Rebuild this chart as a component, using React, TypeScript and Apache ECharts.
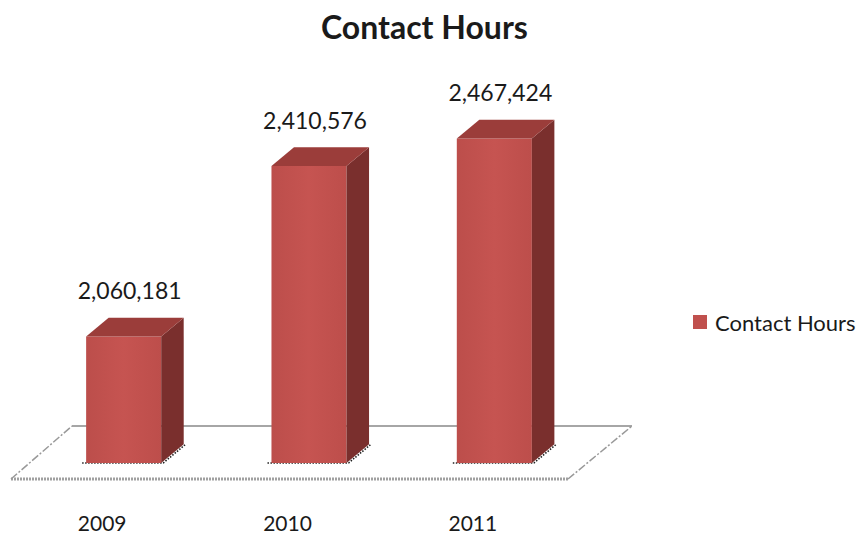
import React, { useEffect, useRef } from "react";
import * as echarts from "echarts";

const categories = ["2009", "2010", "2011"];
const contactHours = [2060181, 2410576, 2467424];
const seriesName = "Contact Hours";
const axisMin = 1800000;
const axisMax = 2600000;

const FONT = "Lato, 'Open Sans', sans-serif";

function fmt(v: number) {
  return v.toString().replace(/\B(?=(\d{3})+(?!\d))/g, ",");
}

export default function App() {
  const ref = useRef<HTMLDivElement>(null);
  useEffect(() => {
    if (!ref.current) return;
    const chart = echarts.init(ref.current, null, { renderer: "svg" });
    const data = contactHours.map((v, i) => [i, v]);
    chart.setOption({
      animation: false,
      backgroundColor: "#ffffff",
      title: {
        text: "Contact Hours",
        left: 316,
        top: 5,
        textStyle: { fontFamily: FONT, fontSize: 32, fontWeight: "bold", color: "#1a1a1a" },
      },
      legend: {
        data: [seriesName],
        left: 688,
        top: 306,
        icon: "rect",
        itemWidth: 14,
        itemHeight: 14,
        textStyle: { fontFamily: FONT, fontSize: 22, color: "#1a1a1a", padding: [0, 0, 0, 3] },
      },
      grid: { left: 31, right: 277, top: 74, bottom: 75 },
      xAxis: {
        type: "category",
        data: categories,
        axisLine: { show: false },
        axisTick: { show: false },
        splitLine: { show: false },
        axisLabel: {
          fontFamily: FONT,
          fontSize: 21,
          color: "#1a1a1a",
          margin: 49,
          padding: [0, 43, 0, 0],
        },
      },
      yAxis: {
        type: "value",
        min: axisMin,
        max: axisMax,
        show: false,
        splitLine: { show: false },
      },
      series: [
        {
          name: seriesName,
          type: "custom",
          itemStyle: { color: "#C0504D" },
          data,
          encode: { x: 0, y: 1 },
          renderItem: (params: any, api: any) => {
            const idx = api.value(0);
            const val = api.value(1);
            const base = api.coord([idx, axisMin]);
            const top = api.coord([idx, val]);
            const band = api.size([1, 0])[0];
            const w = band * 0.405;
            const dx = w * 0.3;
            const dy = w * 0.25;
            const x0 = base[0] - w / 2;
            const x1 = x0 + w;
            const yT = top[1];
            const yB = base[1];
            const children: any[] = [];
            if (params.dataIndex === 0) {
              const cs = params.coordSys;
              const gl = cs.x;
              const gr = cs.x + cs.width;
              const fy = yB;
              const fl = gl - 20;
              const fr = gr - 19;
              const bl = gl + 41;
              const br = gr + 45;
              const fyF = fy + 16;
              const fyB = fy - 37;
              children.push({
                type: "polygon",
                shape: { points: [[fl, fyF], [bl, fyB], [br, fyB], [fr, fyF]] },
                style: { fill: "#ffffff", stroke: "none" },
              });
              children.push({
                type: "line",
                shape: { x1: bl, y1: fyB, x2: br, y2: fyB },
                style: { stroke: "#A6A6A6", lineWidth: 2 },
              });
              children.push({
                type: "line",
                shape: { x1: fl, y1: fyF, x2: fr, y2: fyF },
                style: { stroke: "#A0A0A0", lineWidth: 3, lineDash: [2, 1] },
              });
              children.push({
                type: "line",
                shape: { x1: fl, y1: fyF, x2: bl, y2: fyB },
                style: { stroke: "#999999", lineWidth: 1.5, lineDash: [8, 2, 2, 2] },
              });
              children.push({
                type: "line",
                shape: { x1: fr, y1: fyF, x2: br, y2: fyB },
                style: { stroke: "#999999", lineWidth: 1.5, lineDash: [8, 2, 2, 2] },
              });
            }
            children.push({
              type: "polyline",
              shape: { points: [[x0 - 4, yB], [x1 + 2, yB], [x1 + dx + 2, yB - dy]] },
              style: { stroke: "#222", lineWidth: 1.6, lineDash: [1.5, 1.5], fill: "none" },
            });
            children.push({
              type: "rect",
              shape: { x: x0, y: yT, width: w, height: yB - yT },
              style: {
                fill: new echarts.graphic.LinearGradient(0, 0, 1, 0, [
                  { offset: 0, color: "#BC4E4B" },
                  { offset: 0.5, color: "#C65451" },
                  { offset: 1, color: "#BD4E4B" },
                ]),
              },
            });
            children.push({
              type: "polygon",
              shape: { points: [[x1, yT], [x1 + dx, yT - dy], [x1 + dx, yB - dy], [x1, yB]] },
              style: { fill: "#7A2F2D" },
            });
            children.push({
              type: "polygon",
              shape: { points: [[x0, yT], [x0 + dx, yT - dy], [x1 + dx, yT - dy], [x1, yT]] },
              style: { fill: "#9B3D3A" },
            });
            children.push({
              type: "text",
              style: {
                text: fmt(val),
                x: base[0] + 6,
                y: yT - 46,
                align: "center",
                verticalAlign: "middle",
                fontFamily: FONT,
                fontSize: 23,
                fill: "#1a1a1a",
              },
            });
            return { type: "group", children };
          },
        },
      ],
    });
    return () => chart.dispose();
  }, []);
  return (
    <div
      ref={ref}
      style={{ position: "absolute", left: 0, top: 0, width: 864, height: 538 }}
    />
  );
}
